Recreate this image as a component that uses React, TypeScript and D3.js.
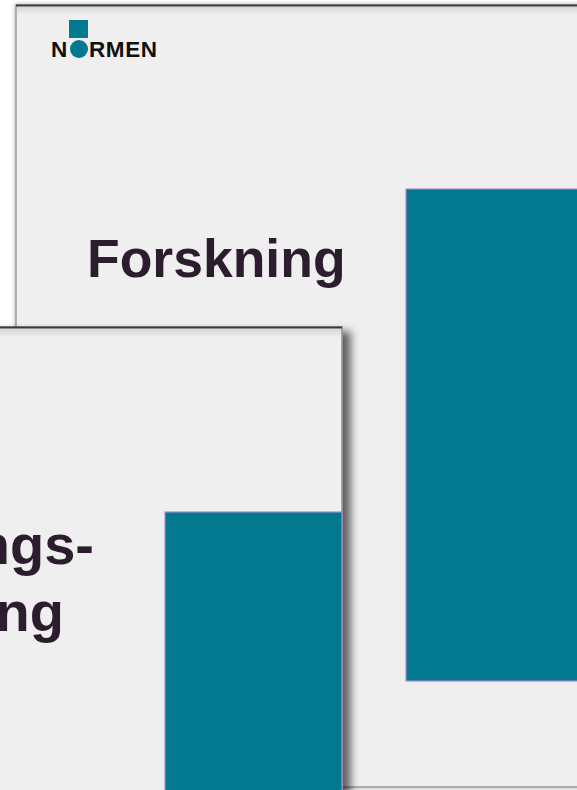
import React from "react";
import * as d3 from "d3";

// slide titles (one entry per line) and the bar on each slide
const backTitle = ["Forskning"];
const frontTitle = ["Utdannings-", "forskning"];
const barValues = [100, 60];
const barColor = "#03798f";

const W = 577;
const H = 790;

export default function App() {
  // one bar unit = 4.92px, back bar is the full 100
  const y = d3.scaleLinear().domain([0, 100]).range([0, 492]);

  const back = { x: 16, y: 5, w: 620, h: 782 };
  const front = { x: -30, y: 327, w: 372, h: 500 };

  const backBar = { x: 406, top: 189, w: 220 };
  const frontBar = { x: 165, top: 512, w: 177 };

  return (
    <svg
      width={W}
      height={H}
      style={{ position: "absolute", left: 0, top: 0, background: "#fff" }}
      fontFamily="'Liberation Sans', Arial, sans-serif"
    >
      <defs>
        <filter id="softShadow" x="-5%" y="-5%" width="110%" height="110%">
          <feDropShadow dx="0" dy="0" stdDeviation="2" floodColor="#000" floodOpacity="0.35" />
        </filter>
        <filter id="frontShadow" x="-10%" y="-10%" width="130%" height="130%">
          <feDropShadow dx="8" dy="5" stdDeviation="4" floodColor="#000" floodOpacity="0.6" />
        </filter>
        <linearGradient id="topFade" x1="0" y1="0" x2="0" y2="1">
          <stop offset="0" stopColor="#d6d6d6" />
          <stop offset="1" stopColor="#efefef" />
        </linearGradient>
      </defs>

      {/* back slide */}
      <g>
        <rect x={back.x} y={back.y} width={back.w} height={back.h} fill="#efefef" stroke="#9a9a9a" strokeWidth={1.5} filter="url(#softShadow)" />
        <rect x={back.x + 1} y={back.y + 1.5} width={back.w} height={8} fill="url(#topFade)" />
        <line x1={back.x} x2={W} y1={back.y + 0.5} y2={back.y + 0.5} stroke="#3a3a3a" strokeWidth={2} />

        {/* logo */}
        <rect x={69} y={20} width={19} height={18} fill={barColor} />
        <text x={51} y={57} fontSize={22.5} fontWeight="bold" fill="#111">N</text>
        <circle cx={79} cy={49} r={9} fill={barColor} />
        <text x={89} y={57} fontSize={22.5} fontWeight="bold" fill="#111" letterSpacing={0.6}>RMEN</text>

        {backTitle.map((t, i) => (
          <text key={t} x={87} y={277 + i * 62} fontSize={53.5} fontWeight="bold" fill="#2b1d2d">{t}</text>
        ))}

        <rect
          x={backBar.x}
          y={backBar.top}
          width={backBar.w}
          height={y(barValues[0])}
          fill={barColor}
          stroke="#a98bcf"
          strokeWidth={1.2}
        />
      </g>

      {/* front slide */}
      <g>
        <rect x={front.x} y={front.y} width={front.w} height={front.h} fill="#efefef" stroke="#8f8f8f" strokeWidth={1.5} filter="url(#frontShadow)" />
        <rect x={front.x} y={front.y + 1.5} width={front.w - 1} height={9} fill="url(#topFade)" />
        <line x1={front.x} x2={front.x + front.w} y1={front.y + 0.5} y2={front.y + 0.5} stroke="#3a3a3a" strokeWidth={2} />

        {frontTitle.map((t, i) => (
          <text key={t} x={i === 0 ? 94 : 64} y={564 + i * 67} textAnchor="end" fontSize={56} fontWeight="bold" fill="#2b1d2d">{t}</text>
        ))}

        <rect
          x={frontBar.x}
          y={frontBar.top}
          width={frontBar.w}
          height={y(barValues[1])}
          fill={barColor}
          stroke="#a98bcf"
          strokeWidth={1.2}
        />
      </g>
    </svg>
  );
}
